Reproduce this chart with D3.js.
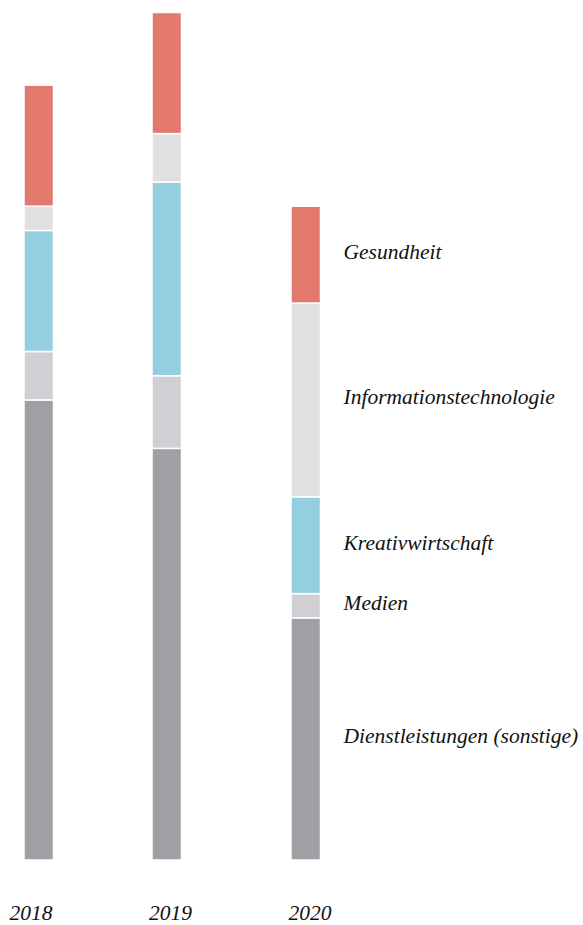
<!DOCTYPE html>
<html><head><meta charset="utf-8">
<script src="https://cdn.jsdelivr.net/npm/d3@7"></script>
<style>body{margin:0;background:#fff}svg{display:block}
text{font-family:"Liberation Serif","Times New Roman",Times,"DejaVu Serif",serif;font-style:italic;font-size:21.5px;fill:#111}</style>
</head><body><svg id="c" width="583" height="925"></svg>
<script>
const years = ["2018", "2019", "2020"];
const categories = ["Dienstleistungen (sonstige)", "Medien", "Kreativwirtschaft", "Informationstechnologie", "Gesundheit"];
const dienstleistungen = [19, 17, 10];
const medien = [2, 3, 1];
const kreativwirtschaft = [5, 8, 4];
const informationstechnologie = [1, 2, 8];
const gesundheit = [5, 5, 4];
const colors = ["#a09fa4", "#d0cfd3", "#94cfe0", "#e0e0e2", "#e3796c"];

const seriesValues = [dienstleistungen, medien, kreativwirtschaft, informationstechnologie, gesundheit];
const table = years.map((yr, i) => {
  const o = {year: yr};
  categories.forEach((c, k) => o[c] = seriesValues[k][i]);
  return o;
});
const stack = d3.stack().keys(categories)(table);

const svg = d3.select("#c");
const barX = d3.scaleOrdinal().domain(years).range([24, 152, 291]);
const labelX = d3.scalePoint().domain(years).range([31, 310]);
const barW = 29.5;
const y = d3.scaleLinear().domain([0, 35]).range([860, 12.5]);
const color = d3.scaleOrdinal().domain(categories).range(colors);

svg.append("g").selectAll("g").data(stack).join("g")
  .attr("fill", d => color(d.key))
  .selectAll("rect").data(d => d).join("rect")
  .attr("x", d => barX(d.data.year))
  .attr("width", barW)
  .attr("y", d => y(d[1]))
  .attr("height", d => y(d[0]) - y(d[1]))
  .attr("stroke", "#fff")
  .attr("stroke-width", 1.5);

svg.append("g").selectAll("text").data(years).join("text")
  .attr("x", d => labelX(d))
  .attr("y", 920)
  .attr("text-anchor", "middle")
  .text(d => d);

const last = years.length - 1;
svg.append("g").selectAll("text").data(stack).join("text")
  .attr("x", barX(years[last]) + barW + 23)
  .attr("y", d => (y(d[last][0]) + y(d[last][1])) / 2)
  .attr("dy", "0.2em")
  .text(d => d.key);
</script></body></html>
